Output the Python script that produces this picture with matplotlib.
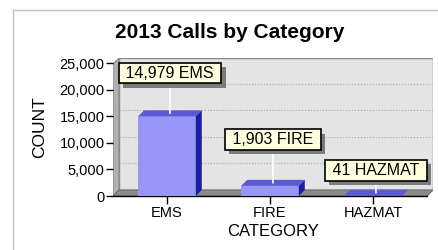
import numpy as np
import matplotlib.pyplot as plt
import matplotlib.patheffects as pe
from matplotlib.patches import Polygon
from matplotlib.lines import Line2D
from matplotlib.ticker import FuncFormatter

plt.rcParams['font.family'] = ['Liberation Sans', 'DejaVu Sans']

categories = ['EMS', 'FIRE', 'HAZMAT']
counts = [14979, 1903, 41]
labels = ['14,979 EMS', '1,903 FIRE', '41 HAZMAT']
label_offsets = [29, 31, 16]   # box centre above bar top, points

front = '#9696f6'
top_c = '#5a5ad8'
side_c = '#1e1e9c'

fig = plt.figure(figsize=(4.38, 2.5), dpi=100)
ax = fig.add_axes([113/438, 54/250, 320/438, 138/250])

xl, xr = -0.524, 2.583
ymax = 25940
dx, dy = 0.058, 1130
ax.set_xlim(xl, xr)
ax.set_ylim(0, ymax)

# back wall, left wall, floor
ax.add_patch(Polygon([(xl + dx, dy), (xr, dy), (xr, ymax), (xl + dx, ymax)],
                     closed=True, fc='#e4e4e4', ec='#8a8a8a', lw=1, zorder=0))
ax.add_patch(Polygon([(xl, 0), (xl + dx, dy), (xl + dx, ymax), (xl, ymax - dy)],
                     closed=True, fc='#b0b0b0', ec='#8a8a8a', lw=0.8, zorder=0))
ax.add_patch(Polygon([(xl, 0), (xr - dx, 0), (xr, dy), (xl + dx, dy)],
                     closed=True, fc='#8c8c8c', ec='#707070', lw=0.8, zorder=1))
for g in [5000, 10000, 15000, 20000]:
    ax.plot([xl + dx, xr], [g + dy, g + dy], ls=':', color='#a8a8a8', lw=0.8, zorder=0.5)

x = np.arange(len(categories))
w = 0.56
ax.bar(x, counts, width=w, color=front, zorder=3)
for xi, v in zip(x, counts):
    x0, x1 = xi - w / 2, xi + w / 2
    ax.add_patch(Polygon([(x0, v), (x1, v), (x1 + dx, v + dy), (x0 + dx, v + dy)],
                         closed=True, fc=top_c, ec='none', zorder=3))
    ax.add_patch(Polygon([(x1, 0), (x1 + dx, dy), (x1 + dx, v + dy), (x1, v)],
                         closed=True, fc=side_c, ec='none', zorder=3))

for xi, v, lab, off in zip(x, counts, labels, label_offsets):
    t = ax.annotate(f' {lab} ', xy=(xi + dx / 2, v + dy / 2), xytext=(0, off),
                    textcoords='offset points', ha='center', va='center',
                    fontsize=11.5, zorder=5,
                    bbox=dict(boxstyle='square,pad=0.18', fc='#ffffe0', ec='black', lw=1.2),
                    arrowprops=dict(arrowstyle='-', color='white', lw=1.2,
                                    shrinkA=0, shrinkB=0))
    t.get_bbox_patch().set_path_effects([
        pe.withSimplePatchShadow(offset=(3, -3), shadow_rgbFace='#707070', alpha=0.9)])

for s in ['top', 'right', 'left']:
    ax.spines[s].set_visible(False)
ax.spines['bottom'].set_color('black')
ax.spines['bottom'].set_linewidth(1)
ax.spines['bottom'].set_bounds(xl, xr - dx)

ax.set_yticks([0, 5000, 10000, 15000, 20000, 25000])
ax.yaxis.set_major_formatter(FuncFormatter(lambda v, p: f'{int(v):,}'))
ax.set_xticks(x)
ax.set_xticklabels(categories)
ax.tick_params(axis='y', length=5, width=1, pad=1, labelsize=10.5)
ax.tick_params(axis='x', length=6, width=1, pad=1, labelsize=10.5)
ax.set_xlabel('CATEGORY', fontsize=12, labelpad=3)
ax.set_ylabel('COUNT', fontsize=12.5, labelpad=9)

fig.text(230/438, 1 - 33/250, '2013 Calls by Category', ha='center', va='center',
         fontsize=15, fontweight='bold')

# outer frame lines
fig.add_artist(Line2D([13/438, 13/438], [0, 1 - 10/250], color='#c0c0c0', lw=1))
fig.add_artist(Line2D([13/438, 1], [1 - 10/250, 1 - 10/250], color='#c0c0c0', lw=1))

fig.savefig('out.png', dpi=100)
